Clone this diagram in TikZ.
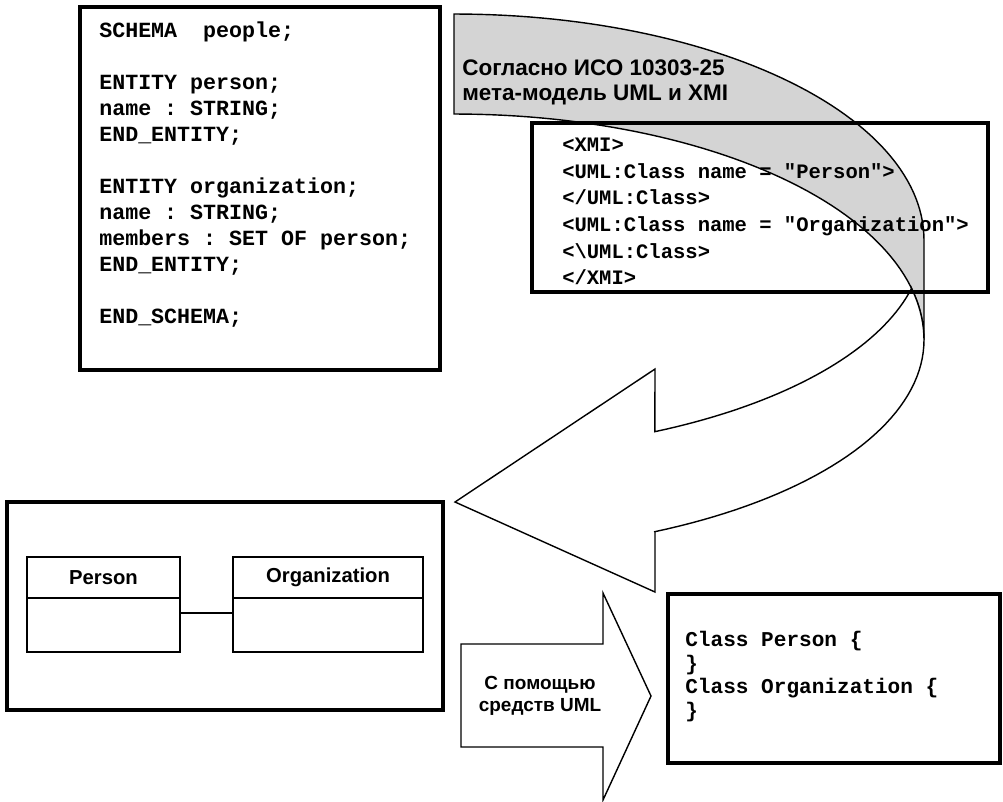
\documentclass[tikz,border=0pt]{standalone}
\usepackage{fontspec}
\setmainfont{Liberation Sans}
\setmonofont{Liberation Mono}
\usepackage{tikz}
\usetikzlibrary{positioning}
\definecolor{bandgray}{HTML}{D4D4D4}

\begin{document}
\begin{tikzpicture}[x=0.25mm, y=-0.25mm,
    panel/.style={draw, line width=2.3pt, inner sep=0pt, outer sep=0pt},
    classhead/.style={draw, line width=1.1pt, inner sep=0pt, outer sep=0pt,
                      minimum height=10.25mm,
                      font=\fontsize{14.4}{17}\selectfont\bfseries},
    classbody/.style={draw, line width=1.1pt, inner sep=0pt, outer sep=0pt,
                      minimum height=13.5mm},
    code/.style={anchor=west, align=left, inner sep=0pt, font=\ttfamily\bfseries},
    caption/.style={align=left, inner sep=0pt, font=\bfseries},
    band/.style={draw, line width=1pt, line join=miter}
  ]
    \useasboundingbox (0,0) rectangle (1003,801);

    % Curved arrow, back part
    \draw[band, fill=bandgray]
      plot[domain=-90:0, samples=60] ({454+470*cos(\x)}, {240+226*sin(\x)})
      -- (924,340)
      -- plot[domain=0:-90, samples=60] ({454+470*cos(\x)}, {340+226*sin(\x)})
      -- cycle;
    % Curved arrow, front part with head
    \draw[band, fill=white]
      plot[domain=13.2:64.7, samples=40] ({454+470*cos(\x)}, {240+212*sin(\x)})
      -- (655,369) -- (455,502) -- (655,592) -- (655,532)
      -- plot[domain=64.7:0, samples=40] ({454+470*cos(\x)}, {340+212*sin(\x)})
      -- plot[domain=0:-13.2, samples=10] ({454+470*cos(\x)}, {340+226*sin(\x)})
      -- cycle;
    \node[caption, anchor=west, font=\fontsize{16}{17.8}\selectfont\bfseries]
      (isolabel) at (462,82.5) {Согласно ИСО 10303-25\\мета-модель UML и XMI};

    % Boxes
    \node[panel, minimum width=90mm, minimum height=90.75mm] (express) at (260,188.5) {};
    \node[panel, minimum width=114mm, minimum height=42.25mm] (xmi) at (760,207.5) {};
    \node[panel, minimum width=109mm, minimum height=52mm] (uml) at (225,606) {};
    \node[panel, minimum width=83mm, minimum height=42.25mm] (java) at (834,678.5) {};

    % EXPRESS schema
    \node[code, font=\fontsize{15.4}{18.5}\selectfont\ttfamily\bfseries]
      (schema) at (99,175) {SCHEMA~~people;\\[18.5pt]
      ENTITY person;\\name : STRING;\\END\_ENTITY;\\[18.5pt]
      ENTITY organization;\\name : STRING;\\members : SET OF person;\\END\_ENTITY;\\[18.5pt]
      END\_SCHEMA;};

    % XMI document
    \node[code, font=\fontsize{14.6}{18.9}\selectfont\ttfamily\bfseries]
      (xmitext) at (562,211.5) {<XMI>\\<UML:Class name = "Person">\\</UML:Class>\\
      <UML:Class name = "Organization">\\<\textbackslash UML:Class>\\</XMI>};

    % UML classes
    \node[classhead, minimum width=38.25mm] (personhead) at (103.5,577.5) {Person};
    \node[classbody, minimum width=38.25mm, below=0pt of personhead] (personbody) {};
    \node[classhead, minimum width=47.5mm] (orghead) at (328,577.5) {Organization};
    \node[classbody, minimum width=47.5mm, below=0pt of orghead] (orgbody) {};
    \draw[line width=1.1pt] ([yshift=3mm]personbody.east) -- ([yshift=3mm]orgbody.west);

    % Generated classes
    \node[code, font=\fontsize{15}{16.85}\selectfont\ttfamily\bfseries]
      (classes) at (685,676.5) {Class Person \{\\\}\\Class Organization \{\\\}};

    % Straight arrow
    \draw[band, fill=white] (461,644) -- (603,644) -- (603,593) -- (651,696)
      -- (603,800) -- (603,747) -- (461,747) -- cycle;
    \node[caption, align=center, font=\fontsize{13.5}{15.6}\selectfont\bfseries]
      (umltools) at (540,696) {С помощью\\средств UML};
  \end{tikzpicture}
\end{document}
